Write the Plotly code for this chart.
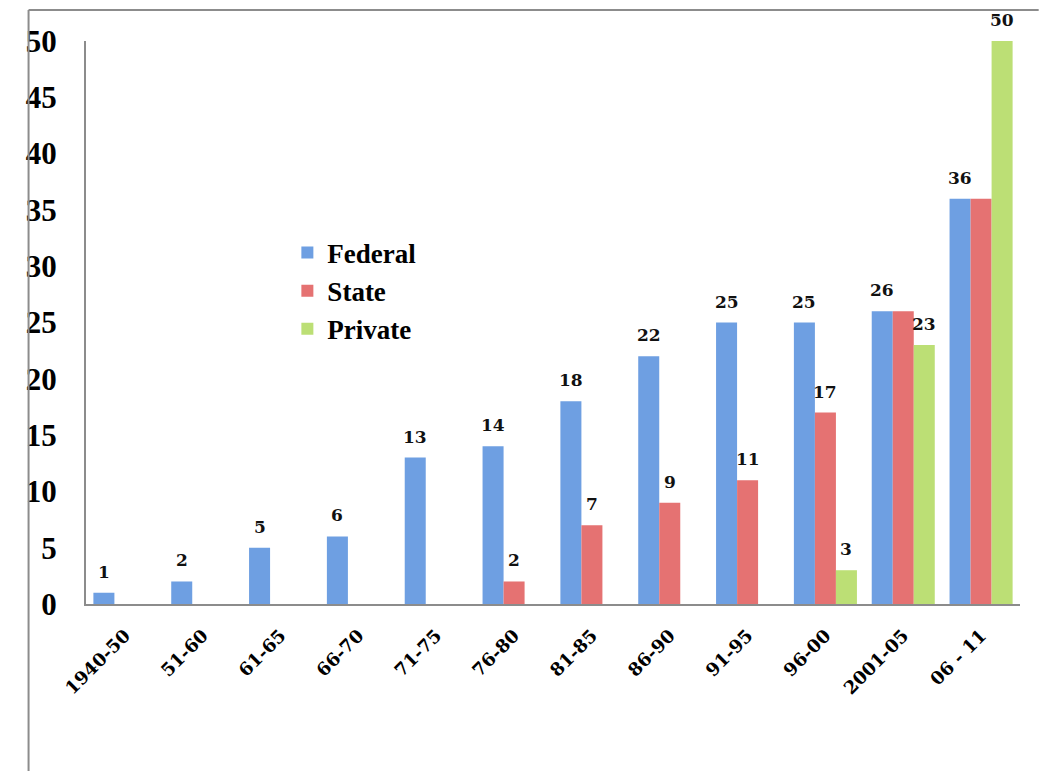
import plotly.graph_objects as go

# Periods and counts per sector
periods = ["1940-50", "51-60", "61-65", "66-70", "71-75", "76-80",
           "81-85", "86-90", "91-95", "96-00", "2001-05", "06 - 11"]
federal = [1, 2, 5, 6, 13, 14, 18, 22, 25, 25, 26, 36]
state = [None, None, None, None, None, 2, 7, 9, 11, 17, 26, 36]
private = [None, None, None, None, None, None, None, None, None, 3, 23, 50]

# Which values carry a printed label
state_labelled = [False, False, False, False, False, True, True, True, True, True, False, False]
private_labelled = [False] * 9 + [True, True, True]

y_ticks = [0, 5, 10, 15, 20, 25, 30, 35, 40, 45, 50]

SERIF = "Liberation Serif, Times New Roman, serif"
LABEL_FONT = "DejaVu Serif, Cambria, serif"

series = [
    ("Federal", federal, "#6E9FE2", [True] * len(periods)),
    ("State", state, "#E57272", state_labelled),
    ("Private", private, "#BCDF75", private_labelled),
]

fig = go.Figure()
for name, vals, color, _ in series:
    fig.add_trace(go.Bar(
        name=name, x=periods, y=vals,
        marker=dict(color=color, line=dict(width=0)),
    ))

# Value labels above the bars
bar_px = 21
annotations = []
for i, (name, vals, color, flags) in enumerate(series):
    for cat, v, show in zip(periods, vals, flags):
        if v is None or not show:
            continue
        annotations.append(dict(
            x=cat, y=v, xref="x", yref="y", text=str(v),
            showarrow=False, yanchor="bottom", xanchor="center",
            xshift=(i - 1) * bar_px, yshift=9,
            font=dict(family=LABEL_FONT, size=17, color="#111", weight="bold"),
        ))

fig.update_layout(
    width=1039, height=771,
    margin=dict(l=86, r=19, t=41, b=167),
    paper_bgcolor="white", plot_bgcolor="white",
    barmode="group", bargap=0.19, bargroupgap=0,
    showlegend=True,
    legend=dict(
        x=0.2156, y=0.667, xanchor="left", yanchor="top",
        font=dict(family=SERIF, size=27, color="#000", weight="bold"),
        bgcolor="rgba(0,0,0,0)", tracegroupgap=0,
        itemwidth=30,
    ),
    annotations=annotations,
    xaxis=dict(
        type="category",
        showline=True, linecolor="#8C8C8C", linewidth=2,
        showgrid=False, ticks="", tickangle=-45,
        ticklabelstandoff=12,
        tickfont=dict(family=LABEL_FONT, size=18, color="#000", weight="bold"),
    ),
    yaxis=dict(
        range=[0, 50], tickvals=y_ticks, ticktext=[str(t) for t in y_ticks],
        showline=True, linecolor="#8C8C8C", linewidth=2,
        showgrid=False, zeroline=False, ticks="",
        ticklabelstandoff=21,
        tickfont=dict(family=SERIF, size=31, color="#000", weight="bold"),
    ),
    shapes=[
        dict(type="line", xref="paper", yref="paper",
             x0=-0.0615, x1=1.02, y0=1.0551, y1=1.0551,
             line=dict(color="#8C8C8C", width=2)),
        dict(type="line", xref="paper", yref="paper",
             x0=-0.0615, x1=-0.0615, y0=1.0551, y1=-0.3,
             line=dict(color="#8C8C8C", width=2)),
    ],
)

fig.write_html("out.html")
